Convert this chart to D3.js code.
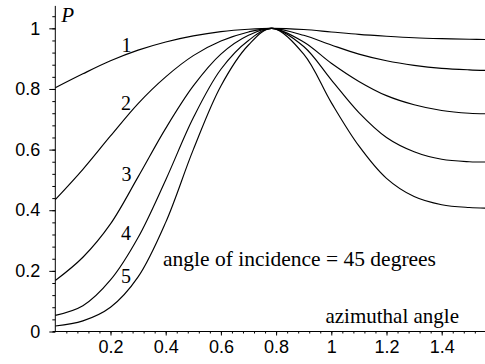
<!DOCTYPE html>
<html>
<head>
<meta charset="utf-8">
<script src="https://cdn.jsdelivr.net/npm/d3@7"></script>
<style>
  html, body { margin: 0; padding: 0; background: #fff; }
  svg { display: block; }
  .num { font-family: "Liberation Sans", Arial, Helvetica, sans-serif; font-size: 18px; fill: #000; }
  .serif { font-family: "Liberation Serif", "Times New Roman", Times, serif; fill: #000; }
</style>
</head>
<body>
<svg id="chart" width="485" height="364"></svg>
<script>
// ---- data ----
const azimuth = [0, 0.1, 0.2, 0.3, 0.4, 0.5, 0.6, 0.7, 0.785, 0.9, 1.0, 1.1, 1.2, 1.3, 1.4, 1.5, 1.5708];
const curve1 = [0.804, 0.850, 0.893, 0.928, 0.955, 0.975, 0.989, 0.997, 1, 0.996, 0.988, 0.980, 0.974, 0.969, 0.966, 0.964, 0.963];
const curve2 = [0.435, 0.535, 0.645, 0.752, 0.840, 0.910, 0.958, 0.988, 1, 0.977, 0.945, 0.915, 0.893, 0.878, 0.868, 0.863, 0.861];
const curve3 = [0.168, 0.245, 0.355, 0.510, 0.670, 0.810, 0.915, 0.977, 1, 0.955, 0.885, 0.825, 0.778, 0.748, 0.729, 0.720, 0.718];
const curve4 = [0.053, 0.085, 0.170, 0.310, 0.500, 0.705, 0.865, 0.960, 1, 0.940, 0.830, 0.722, 0.640, 0.593, 0.568, 0.560, 0.559];
const curve5 = [0.018, 0.035, 0.080, 0.180, 0.360, 0.600, 0.810, 0.945, 1, 0.915, 0.755, 0.612, 0.505, 0.445, 0.418, 0.409, 0.407];
const curveNames = ["1", "2", "3", "4", "5"];
const curveLabelX = [0.258, 0.256, 0.258, 0.256, 0.256];
const curveLabelY = [0.945, 0.754, 0.519, 0.325, 0.183];
const xTickLabels = [0.2, 0.4, 0.6, 0.8, 1, 1.2, 1.4];
const yTickLabels = [0, 0.2, 0.4, 0.6, 0.8, 1];
const yAxisTitle = "P";
const xAxisTitle = "azimuthal angle";
const note = "angle of incidence = 45 degrees";

// ---- layout ----
const svg = d3.select("#chart");
const x = d3.scaleLinear().domain([0, Math.PI / 2]).range([55.3, 55.3 + 276 * Math.PI / 2]);
const y = d3.scaleLinear().domain([0, 1.074]).range([331.5, 5.9]);
const series = [curve1, curve2, curve3, curve4, curve5];

// curves
const line = d3.line()
  .x((d, i) => x(azimuth[i]))
  .y(d => y(d))
  .curve(d3.curveCatmullRom.alpha(0.5));
svg.append("g")
  .selectAll("path")
  .data(series)
  .join("path")
  .attr("d", d => line(d))
  .attr("fill", "none")
  .attr("stroke", "#000")
  .attr("stroke-width", 1.15);

// y axis
const yMinor = d3.range(0, 1.06, 0.04);
const yAxisMinor = d3.axisLeft(y).tickValues(yMinor).tickSize(3).tickFormat("");
const gyMinor = svg.append("g").attr("transform", `translate(${x(0)},0)`).call(yAxisMinor);
gyMinor.select(".domain").remove();
const yAxis = d3.axisLeft(y).tickValues(yTickLabels).tickSize(6).tickPadding(9)
  .tickFormat(d => String(+d.toFixed(1)));
const gy = svg.append("g").attr("transform", `translate(${x(0)},0)`).call(yAxis);
gy.select(".domain").attr("d", `M0,${y(0)}V${y(1.074)}`);
gy.selectAll("text").attr("class", "num").attr("font-size", null).attr("font-family", null);

// x axis
const xMinor = d3.range(0.04, 1.57, 0.04);
const xAxisMinor = d3.axisBottom(x).tickValues(xMinor).tickSize(2).tickFormat("");
const gxMinor = svg.append("g").attr("transform", `translate(0,${y(0)})`).call(xAxisMinor);
gxMinor.select(".domain").remove();
const xAxis = d3.axisBottom(x).tickValues(xTickLabels).tickSize(4).tickPadding(5)
  .tickFormat(d => String(+d.toFixed(1)));
const gx = svg.append("g").attr("transform", `translate(0,${y(0)})`).call(xAxis);
gx.select(".domain").attr("d", `M${x(0) - 2.5},0H485`);
gx.selectAll("text").attr("class", "num").attr("font-size", null).attr("font-family", null);

svg.selectAll(".domain, .tick line").attr("stroke", "#000").attr("stroke-width", 1);

// axis titles & annotations
svg.append("text").attr("class", "serif")
  .attr("x", x(0) + 6).attr("y", y(1.02))
  .attr("font-size", 21).attr("font-style", "italic")
  .text(yAxisTitle);
svg.append("text").attr("class", "serif")
  .attr("x", 459).attr("y", 322.5).attr("text-anchor", "end")
  .attr("font-size", 21)
  .text(xAxisTitle);
svg.append("text").attr("class", "serif")
  .attr("x", 163).attr("y", 265.5)
  .attr("font-size", 21.5)
  .text(note);

// curve numbers
svg.append("g").selectAll("text")
  .data(curveNames)
  .join("text")
  .attr("class", "serif")
  .attr("x", (d, i) => x(curveLabelX[i]))
  .attr("y", (d, i) => y(curveLabelY[i]))
  .attr("dy", "0.35em")
  .attr("text-anchor", "middle")
  .attr("font-size", 20)
  .text(d => d);
</script>
</body>
</html>
